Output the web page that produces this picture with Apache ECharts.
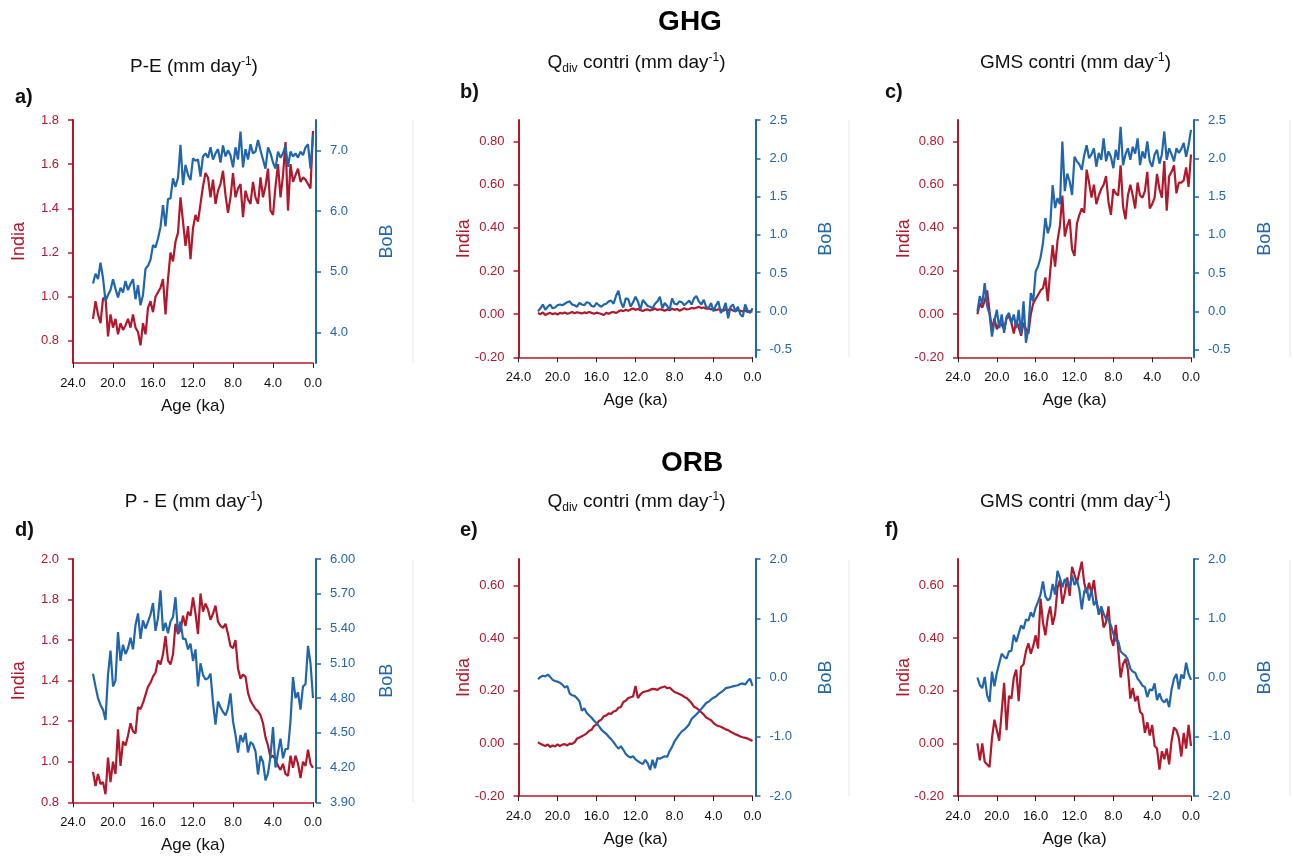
<!DOCTYPE html>
<html>
<head>
<meta charset="utf-8">
<script src="https://cdn.jsdelivr.net/npm/echarts@6/dist/echarts.min.js"></script>
<style>
  html, body { margin: 0; padding: 0; background: #ffffff; }
  #chart { width: 1293px; height: 856px; }
</style>
</head>
<body>
<div id="chart"></div>
<script>
// Age axis: samples every 0.25 ka from 22 ka to present
const AGE = Array.from({ length: 89 }, (_, i) => +(22 - 0.25 * i).toFixed(2));

// ---- GHG : P-E (mm/day) ----
const ghgPE_India = [
  0.90, 0.98, 0.92, 0.88, 0.99, 1.00, 0.82, 0.92, 0.86, 0.90,
  0.83, 0.88, 0.85, 0.87, 0.90, 0.86, 0.92, 0.86, 0.84, 0.78,
  0.88, 0.83, 0.95, 0.98, 0.93, 1.00, 1.02, 1.04, 1.08, 0.92,
  1.08, 1.20, 1.16, 1.25, 1.29, 1.45, 1.34, 1.23, 1.32, 1.17,
  1.31, 1.37, 1.34, 1.42, 1.50, 1.56, 1.54, 1.45, 1.53, 1.42,
  1.48, 1.51, 1.57, 1.46, 1.38, 1.45, 1.56, 1.45, 1.49, 1.51,
  1.36, 1.48, 1.44, 1.42, 1.52, 1.45, 1.42, 1.54, 1.45, 1.50,
  1.58, 1.39, 1.37, 1.50, 1.60, 1.45, 1.55, 1.70, 1.39, 1.60,
  1.52, 1.55, 1.58, 1.52, 1.54, 1.53, 1.51, 1.49, 1.75
];
const ghgPE_BoB = [
  4.81, 4.97, 4.88, 5.15, 4.90, 4.52, 4.62, 4.70, 4.88, 4.72,
  4.58, 4.74, 4.66, 4.85, 4.70, 4.80, 4.88, 4.55, 4.78, 4.45,
  4.62, 5.05, 5.10, 5.20, 5.44, 5.40, 5.55, 5.74, 6.10, 5.75,
  6.20, 6.21, 6.54, 6.40, 6.55, 7.09, 6.43, 6.76, 6.60, 6.51,
  6.87, 6.83, 6.85, 6.57, 6.90, 6.95, 6.88, 7.05, 6.85, 6.95,
  7.02, 6.80, 7.08, 6.90, 7.00, 6.92, 6.72, 7.05, 6.85, 7.31,
  6.72, 7.02, 6.85, 7.10, 6.95, 6.98, 7.17, 7.00, 6.85, 6.70,
  7.05, 6.95, 6.80, 6.70, 6.98, 6.88, 6.95, 7.08, 6.73, 6.98,
  6.90, 6.95, 6.88, 6.98, 6.92, 7.05, 7.10, 6.70, 7.25
];

// ---- GHG : Qdiv contribution ----
const ghgQdiv_India = [
  0.005, 0.000, 0.008, -0.004, 0.002, 0.006, 0.000, 0.004, -0.002, 0.006,
  0.003, 0.008, 0.002, 0.005, 0.010, 0.004, 0.009, 0.006, 0.003, 0.008,
  0.005, 0.010, 0.006, 0.002, 0.007, 0.004, 0.001, -0.004, 0.006, 0.002,
  0.008, 0.010, 0.005, 0.012, 0.018, 0.014, 0.020, 0.016, 0.022, 0.026,
  0.020, 0.024, 0.018, 0.015, 0.020, 0.022, 0.017, 0.021, 0.026, 0.019,
  0.023, 0.020, 0.016, 0.022, 0.018, 0.025, 0.020, 0.024, 0.016, 0.021,
  0.027, 0.022, 0.024, 0.029, 0.026, 0.030, 0.034, 0.028, 0.031, 0.025,
  0.027, 0.022, 0.026, 0.018, 0.023, 0.020, 0.016, 0.022, 0.019, 0.024,
  0.017, 0.013, 0.020, 0.016, 0.012, 0.018, 0.010, 0.014, 0.012
];
const ghgQdiv_BoB = [
  0.00, 0.04, 0.09, 0.02, 0.06, 0.09, 0.04, 0.05, 0.08, 0.09,
  0.08, 0.10, 0.12, 0.13, 0.09, 0.08, 0.06, 0.11, 0.09, 0.08,
  0.12, 0.11, 0.07, 0.06, 0.11, 0.08, 0.06, 0.09, 0.10, 0.13,
  0.14, 0.10, 0.20, 0.27, 0.12, 0.05, 0.17, 0.16, 0.06, 0.12,
  0.19, 0.13, 0.02, 0.15, 0.11, 0.07, 0.06, 0.04, 0.10, 0.13,
  0.19, 0.04, 0.11, 0.07, 0.02, 0.17, 0.10, 0.09, 0.13, 0.12,
  0.08, 0.11, 0.14, 0.09, 0.17, 0.20, 0.13, 0.09, 0.15, 0.06,
  0.04, 0.11, 0.00, 0.08, 0.13, -0.02, 0.02, 0.11, -0.09, 0.06,
  0.09, 0.00, 0.06, -0.04, -0.07, 0.09, 0.01, -0.02, 0.04
];

// ---- GHG : GMS contribution ----
const ghgGMS_India = [
  0.00, 0.05, 0.03, 0.06, 0.11, 0.01, -0.07, -0.02, -0.07, -0.04,
  -0.05, -0.07, -0.02, -0.01, -0.04, -0.09, -0.03, -0.06, -0.10, -0.04,
  -0.07, -0.09, 0.00, 0.05, 0.07, 0.09, 0.11, 0.12, 0.17, 0.06,
  0.20, 0.32, 0.22, 0.34, 0.41, 0.55, 0.36, 0.41, 0.44, 0.30,
  0.27, 0.42, 0.46, 0.49, 0.47, 0.67, 0.61, 0.54, 0.60, 0.51,
  0.55, 0.58, 0.60, 0.64, 0.52, 0.46, 0.58, 0.56, 0.55, 0.69,
  0.50, 0.44, 0.55, 0.60, 0.55, 0.49, 0.61, 0.55, 0.54, 0.57,
  0.66, 0.49, 0.51, 0.54, 0.65, 0.58, 0.54, 0.71, 0.48, 0.64,
  0.66, 0.69, 0.56, 0.61, 0.61, 0.62, 0.68, 0.59, 0.74
];
const ghgGMS_BoB = [
  0.00, 0.20, 0.09, 0.37, 0.07, -0.04, -0.33, -0.13, 0.02, -0.22,
  -0.04, -0.28, -0.07, -0.02, -0.15, -0.04, -0.22, 0.02, -0.30, 0.13,
  -0.41, -0.22, 0.24, 0.13, 0.52, 0.59, 0.70, 0.89, 1.22, 1.02,
  1.13, 1.65, 1.35, 1.48, 1.40, 2.22, 1.57, 1.80, 1.70, 1.52,
  2.02, 1.96, 1.92, 1.85, 2.04, 2.17, 2.00, 2.05, 2.13, 1.89,
  2.07, 1.98, 2.26, 1.96, 2.09, 2.02, 1.87, 2.11, 1.98, 2.41,
  1.91, 2.05, 2.13, 1.98, 2.15, 2.06, 2.26, 1.91, 2.09, 2.00,
  2.22, 1.96, 1.89, 2.05, 2.11, 1.93, 2.05, 2.35, 1.98, 2.13,
  2.05, 1.96, 2.13, 2.07, 2.12, 2.20, 2.02, 2.17, 2.37
];

// ---- ORB : P - E ----
const orbPE_India = [
  0.95, 0.88, 0.94, 0.89, 0.90, 0.84, 1.02, 0.90, 1.00, 0.94,
  1.16, 0.98, 1.10, 1.08, 1.13, 1.19, 1.15, 1.14, 1.27, 1.26,
  1.29, 1.33, 1.37, 1.39, 1.42, 1.44, 1.50, 1.48, 1.53, 1.62,
  1.50, 1.48, 1.53, 1.68, 1.63, 1.65, 1.72, 1.67, 1.74, 1.72,
  1.81, 1.73, 1.63, 1.83, 1.74, 1.78, 1.75, 1.70, 1.73, 1.77,
  1.69, 1.67, 1.66, 1.68, 1.63, 1.57, 1.56, 1.60, 1.46, 1.41,
  1.43, 1.42, 1.34, 1.30, 1.28, 1.26, 1.25, 1.23, 1.19, 1.12,
  1.08, 1.02, 1.03, 1.01, 0.98, 0.96, 0.99, 0.94, 0.93, 1.03,
  0.97, 1.03, 0.99, 0.92, 1.00, 0.98, 1.06, 0.99, 0.97
];
const orbPE_BoB = [
  5.01, 4.90, 4.80, 4.74, 4.70, 4.61, 5.00, 5.21, 4.90, 4.95,
  5.37, 5.12, 5.26, 5.18, 5.23, 5.32, 5.22, 5.43, 5.53, 5.31,
  5.47, 5.40, 5.46, 5.52, 5.62, 5.38, 5.49, 5.73, 5.38, 5.45,
  5.36, 5.46, 5.50, 5.67, 5.36, 5.46, 5.31, 5.31, 5.22, 5.27,
  5.12, 5.22, 4.90, 5.10, 5.00, 4.96, 4.97, 5.01, 4.76, 4.57,
  4.77, 4.72, 4.68, 4.65, 4.71, 4.84, 4.60, 4.48, 4.33, 4.48,
  4.42, 4.50, 4.33, 4.42, 4.40, 4.34, 4.14, 4.30, 4.25, 4.09,
  4.15, 4.30, 4.55, 4.20, 4.33, 4.45, 4.28, 4.36, 4.36, 4.60,
  4.98, 4.80, 4.85, 4.70, 4.90, 4.92, 5.25, 5.10, 4.80
];

// ---- ORB : Qdiv contribution ----
const orbQdiv_India = [
  0.004, -0.002, -0.006, -0.010, -0.004, -0.014, -0.008, -0.012, -0.004, -0.010,
  -0.005, -0.003, -0.008, -0.001, -0.002, 0.004, 0.018, 0.022, 0.027, 0.032,
  0.038, 0.048, 0.052, 0.066, 0.071, 0.085, 0.090, 0.103, 0.106, 0.114,
  0.112, 0.121, 0.124, 0.135, 0.138, 0.157, 0.162, 0.172, 0.175, 0.178,
  0.218, 0.172, 0.186, 0.194, 0.197, 0.199, 0.203, 0.207, 0.206, 0.203,
  0.210, 0.213, 0.216, 0.209, 0.212, 0.203, 0.195, 0.191, 0.187, 0.183,
  0.176, 0.172, 0.163, 0.153, 0.139, 0.134, 0.127, 0.118, 0.109, 0.098,
  0.093, 0.088, 0.077, 0.070, 0.066, 0.063, 0.058, 0.053, 0.050, 0.044,
  0.039, 0.034, 0.031, 0.026, 0.023, 0.021, 0.018, 0.014, 0.009
];
const orbQdiv_BoB = [
  -0.03, 0.01, 0.03, 0.02, 0.05, 0.01, -0.04, -0.06, -0.07, -0.09,
  -0.12, -0.17, -0.14, -0.27, -0.30, -0.31, -0.35, -0.40, -0.56, -0.52,
  -0.60, -0.64, -0.68, -0.73, -0.77, -0.82, -0.88, -0.92, -0.95, -1.00,
  -1.04, -1.09, -1.15, -1.20, -1.16, -1.22, -1.29, -1.33, -1.35, -1.33,
  -1.38, -1.41, -1.44, -1.46, -1.39, -1.45, -1.56, -1.39, -1.53, -1.36,
  -1.37, -1.35, -1.33, -1.34, -1.24, -1.17, -1.08, -1.02, -0.96, -0.91,
  -0.88, -0.84, -0.79, -0.70, -0.66, -0.62, -0.58, -0.53, -0.48, -0.43,
  -0.41, -0.37, -0.34, -0.32, -0.28, -0.25, -0.22, -0.18, -0.17, -0.16,
  -0.15, -0.14, -0.13, -0.11, -0.10, -0.12, -0.06, -0.02, -0.14
];

// ---- ORB : GMS contribution ----
const orbGMS_India = [
  0.00, -0.065, 0.00, -0.07, -0.08, -0.09, 0.02, 0.09, 0.05, 0.01,
  0.12, 0.23, 0.05, 0.18, 0.17, 0.25, 0.28, 0.16, 0.29, 0.30,
  0.35, 0.38, 0.34, 0.37, 0.41, 0.36, 0.55, 0.46, 0.41, 0.48,
  0.52, 0.45, 0.49, 0.59, 0.62, 0.53, 0.57, 0.63, 0.56, 0.67,
  0.64, 0.61, 0.65, 0.69, 0.61, 0.57, 0.61, 0.57, 0.62, 0.54,
  0.50, 0.51, 0.44, 0.46, 0.52, 0.40, 0.37, 0.45, 0.36, 0.25,
  0.30, 0.32, 0.28, 0.17, 0.21, 0.16, 0.18, 0.12, 0.11, 0.04,
  0.08, 0.03, 0.07, -0.01, -0.02, -0.10, -0.03, -0.06, -0.02, -0.08,
  0.01, 0.06, 0.05, 0.02, -0.05, 0.04, -0.02, 0.07, -0.01
];
const orbGMS_BoB = [
  0.00, -0.13, -0.18, 0.01, -0.30, -0.41, 0.10, -0.15, 0.08, 0.24,
  0.40, 0.35, 0.32, 0.44, 0.45, 0.72, 0.60, 0.74, 0.88, 0.82,
  0.98, 0.96, 1.10, 1.02, 1.18, 1.28, 1.40, 1.62, 1.37, 1.30,
  1.34, 1.58, 1.40, 1.80, 1.68, 1.52, 1.66, 1.60, 1.52, 1.72,
  1.56, 1.64, 1.48, 1.15, 1.45, 1.52, 1.30, 1.48, 1.22, 1.30,
  1.06, 1.20, 1.08, 0.99, 0.98, 0.88, 0.74, 0.62, 0.62, 0.44,
  0.40, 0.37, 0.30, 0.15, 0.10, 0.08, -0.02, -0.07, -0.14, -0.16,
  -0.33, -0.20, -0.22, -0.10, -0.38, -0.27, -0.38, -0.42, -0.36, -0.50,
  -0.20, -0.02, 0.06, -0.20, 0.05, -0.02, 0.25, 0.06, -0.04
];

// Tick values
const AGE_TICKS = [0, 4, 8, 12, 16, 20, 24];
const TICKS_A_INDIA = [0.8, 1.0, 1.2, 1.4, 1.6, 1.8];
const TICKS_A_BOB = [4, 5, 6, 7];
const TICKS_BC_INDIA = [-0.2, 0, 0.2, 0.4, 0.6, 0.8];
const TICKS_BC_BOB = [-0.5, 0, 0.5, 1, 1.5, 2, 2.5];
const TICKS_D_INDIA = [0.8, 1.0, 1.2, 1.4, 1.6, 1.8, 2.0];
const TICKS_D_BOB = [3.9, 4.2, 4.5, 4.8, 5.1, 5.4, 5.7, 6.0];
const TICKS_EF_INDIA = [-0.2, 0, 0.2, 0.4, 0.6];
const TICKS_EF_BOB = [-2, -1, 0, 1, 2];

const RED = '#b2182b';
const BLUE = '#2166ac';
const FONT = '"Liberation Sans", Arial, Helvetica, sans-serif';

// Panel layout and axis settings
const panels = [
  { letter: 'a)', title: ['P-E (mm day', null], grid: { left: 73, top: 120, width: 240, height: 243 },
    india: ghgPE_India, bob: ghgPE_BoB,
    iAx: { min: 0.7, max: 1.8, ticks: TICKS_A_INDIA, dec: 1 },
    bAx: { min: 3.5, max: 7.5, ticks: TICKS_A_BOB, dec: 1 },
    titleY: 67, letterPos: [15, 97], sep: [413, 120, 363] },
  { letter: 'b)', title: ['Q', 'div'], grid: { left: 518.5, top: 120, width: 234, height: 237.3 },
    india: ghgQdiv_India, bob: ghgQdiv_BoB,
    iAx: { min: -0.2, max: 0.9, ticks: TICKS_BC_INDIA, dec: 2 },
    bAx: { min: -0.6, max: 2.5, ticks: TICKS_BC_BOB, dec: 1 },
    titleY: 63, letterPos: [460, 92], sep: [849, 120, 357] },
  { letter: 'c)', title: ['GMS contri (mm day', null], grid: { left: 958, top: 120, width: 233, height: 237.3 },
    india: ghgGMS_India, bob: ghgGMS_BoB,
    iAx: { min: -0.2, max: 0.9, ticks: TICKS_BC_INDIA, dec: 2 },
    bAx: { min: -0.6, max: 2.5, ticks: TICKS_BC_BOB, dec: 1 },
    titleY: 63, letterPos: [885, 92], sep: [1290, 120, 357] },
  { letter: 'd)', title: ['P - E (mm day', null], grid: { left: 73, top: 559, width: 240, height: 243.3 },
    india: orbPE_India, bob: orbPE_BoB,
    iAx: { min: 0.8, max: 2.0, ticks: TICKS_D_INDIA, dec: 1 },
    bAx: { min: 3.9, max: 6.0, ticks: TICKS_D_BOB, dec: 2 },
    titleY: 502, letterPos: [15, 530], sep: [413, 560, 802] },
  { letter: 'e)', title: ['Q', 'div'], grid: { left: 518.5, top: 559, width: 234, height: 237 },
    india: orbQdiv_India, bob: orbQdiv_BoB,
    iAx: { min: -0.2, max: 0.7, ticks: TICKS_EF_INDIA, dec: 2 },
    bAx: { min: -2, max: 2, ticks: TICKS_EF_BOB, dec: 1 },
    titleY: 502, letterPos: [460, 530], sep: [849, 560, 796] },
  { letter: 'f)', title: ['GMS contri (mm day', null], grid: { left: 958, top: 559, width: 233, height: 237 },
    india: orbGMS_India, bob: orbGMS_BoB,
    iAx: { min: -0.2, max: 0.7, ticks: TICKS_EF_INDIA, dec: 2 },
    bAx: { min: -2, max: 2, ticks: TICKS_EF_BOB, dec: 1 },
    titleY: 502, letterPos: [885, 530], sep: [1290, 560, 796] }
];

const grids = [], xAxes = [], yAxes = [], series = [], graphics = [];

function pairs(values) {
  return values.map((v, i) => [AGE[i], v]);
}

function textEl(x, y, text, size, color, extra) {
  return Object.assign({
    type: 'text', x: x, y: y, silent: true,
    style: Object.assign({
      text: text, fill: color, fontSize: size, fontFamily: FONT,
      align: 'center', verticalAlign: 'middle'
    }, (extra && extra.style) || {})
  }, (extra && extra.el) || {});
}

panels.forEach((p, i) => {
  const g = p.grid;
  grids.push({ left: g.left, top: g.top, width: g.width, height: g.height, containLabel: false });

  xAxes.push({
    gridIndex: i, type: 'value', min: 0, max: 24, inverse: true,
    axisLine: { show: true, onZero: false, lineStyle: { color: RED, width: 1.5 } },
    axisTick: { show: true, length: 5, customValues: AGE_TICKS, lineStyle: { color: '#222', width: 1 } },
    axisLabel: { customValues: AGE_TICKS, color: '#111', fontSize: 13, fontFamily: FONT, margin: 14,
      formatter: v => v.toFixed(1) },
    splitLine: { show: false }
  });

  yAxes.push({
    gridIndex: i, type: 'value', position: 'left', min: p.iAx.min, max: p.iAx.max,
    axisLine: { show: true, onZero: false, lineStyle: { color: RED, width: 2 } },
    axisTick: { show: true, length: 5, customValues: p.iAx.ticks, lineStyle: { color: RED, width: 1.5 } },
    axisLabel: { customValues: p.iAx.ticks, color: RED, fontSize: 13, fontFamily: FONT, margin: 14,
      formatter: v => v.toFixed(p.iAx.dec) },
    splitLine: { show: false }
  });
  yAxes.push({
    gridIndex: i, type: 'value', position: 'right', offset: 3, min: p.bAx.min, max: p.bAx.max,
    axisLine: { show: true, onZero: false, lineStyle: { color: BLUE, width: 2 } },
    axisTick: { show: true, length: 5, customValues: p.bAx.ticks, lineStyle: { color: BLUE, width: 1.5 } },
    axisLabel: { customValues: p.bAx.ticks, color: BLUE, fontSize: 13, fontFamily: FONT, margin: 14,
      formatter: v => v.toFixed(p.bAx.dec) },
    splitLine: { show: false }
  });

  series.push({
    name: 'India', type: 'line', xAxisIndex: i, yAxisIndex: 2 * i,
    data: pairs(p.india), showSymbol: false, symbol: 'none',
    lineStyle: { color: RED, width: 2.2 }, itemStyle: { color: RED }, z: 2
  });
  series.push({
    name: 'BoB', type: 'line', xAxisIndex: i, yAxisIndex: 2 * i + 1,
    data: pairs(p.bob), showSymbol: false, symbol: 'none',
    lineStyle: { color: BLUE, width: 2.2 }, itemStyle: { color: BLUE }, z: 3
  });

  const cx = g.left + g.width / 2;
  const bottom = g.top + g.height;
  const right = g.left + g.width + 3;

  // Panel title with sub/superscripts
  let rich;
  if (p.title[1] === 'div') {
    rich = '{n|Q}{b|div}{n| contri (mm day}{s|-1}{n|)}';
  } else {
    rich = '{n|' + p.title[0] + '}{s|-1}{n|)}';
  }
  graphics.push({
    type: 'text', x: cx + 1, y: p.titleY, silent: true,
    style: {
      text: rich, align: 'center', verticalAlign: 'middle', fill: '#111',
      rich: {
        n: { fontSize: 19, fontFamily: FONT, fill: '#111', lineHeight: 23 },
        s: { fontSize: 12, fontFamily: FONT, fill: '#111', lineHeight: 12, verticalAlign: 'top' },
        b: { fontSize: 12, fontFamily: FONT, fill: '#111', lineHeight: 12, verticalAlign: 'bottom' }
      }
    }
  });

  // Panel letter
  graphics.push(textEl(p.letterPos[0], p.letterPos[1], p.letter, 20, '#111',
    { style: { fontWeight: 'bold', align: 'left' } }));

  // Axis names
  graphics.push(textEl(cx, bottom + 43, 'Age (ka)', 17, '#111'));
  graphics.push(textEl(g.left - 54, g.top + g.height * 0.5, 'India', 18, RED,
    { el: { rotation: Math.PI / 2 } }));
  graphics.push(textEl(right + 71, g.top + g.height * 0.5, 'BoB', 18, BLUE,
    { el: { rotation: Math.PI / 2 } }));

  // Faint panel separator
  graphics.push({
    type: 'line', silent: true,
    shape: { x1: p.sep[0], y1: p.sep[1], x2: p.sep[0], y2: p.sep[2] },
    style: { stroke: '#e6e6e6', lineWidth: 1 }
  });
});

// Experiment headers
graphics.push(textEl(690, 22, 'GHG', 28, '#000', { style: { fontWeight: 'bold' } }));
graphics.push(textEl(692, 463, 'ORB', 28, '#000', { style: { fontWeight: 'bold' } }));

const chart = echarts.init(document.getElementById('chart'), null, { renderer: 'canvas' });
chart.setOption({
  animation: false,
  backgroundColor: '#ffffff',
  grid: grids,
  xAxis: xAxes,
  yAxis: yAxes,
  series: series,
  graphic: { elements: graphics }
});
</script>
</body>
</html>
